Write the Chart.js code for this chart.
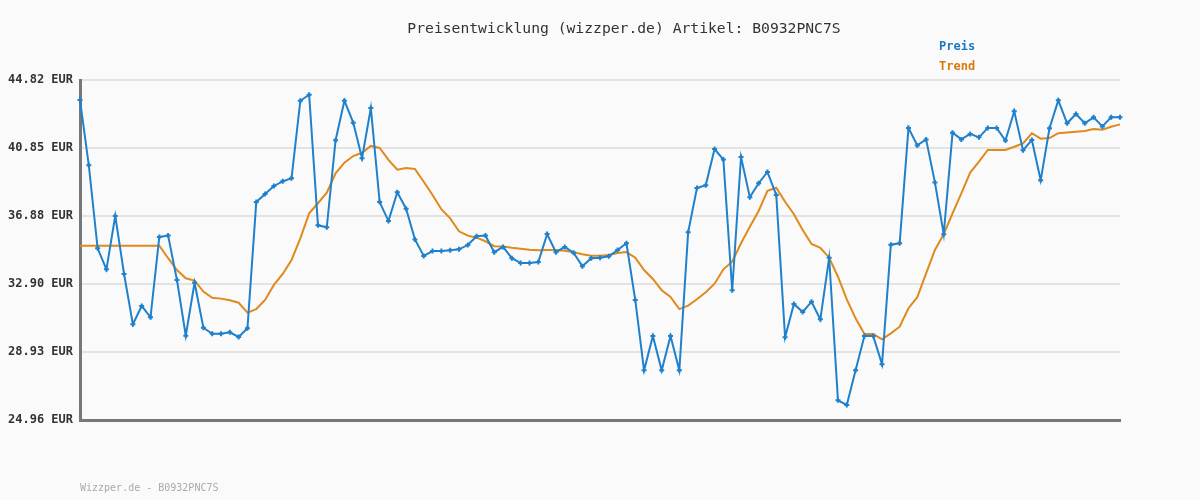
<!DOCTYPE html>
<html>
<head>
<meta charset="utf-8">
<script src="https://cdn.jsdelivr.net/npm/chart.js@4"></script>
<style>
    html, body { margin: 0; padding: 0; background: #fafafa; }
    #wrap { width: 1200px; height: 500px; position: relative; }
</style>
</head>
<body>
<div id="wrap"><canvas id="price_chart"></canvas></div>
<script>
// Preis (blau)
const preis = [
    43.65, 39.84, 34.99, 33.76, 36.88, 33.49, 30.55, 31.62, 30.96, 35.65,
    35.73, 33.14, 29.88, 32.98, 30.35, 30.00, 30.00, 30.08, 29.81, 30.32,
    37.69, 38.16, 38.63, 38.90, 39.08, 43.61, 43.96, 36.33, 36.22, 41.30,
    43.61, 42.33, 40.25, 43.18, 37.69, 36.58, 38.26, 37.30, 35.51, 34.54,
    34.83, 34.83, 34.87, 34.93, 35.18, 35.69, 35.73, 34.76, 35.07, 34.41,
    34.13, 34.13, 34.19, 35.82, 34.76, 35.07, 34.73, 33.94, 34.41, 34.44,
    34.52, 34.89, 35.28, 31.97, 27.86, 29.87, 27.86, 29.87, 27.86, 35.92,
    38.51, 38.67, 40.79, 40.17, 32.54, 40.32, 37.97, 38.79, 39.45, 38.10,
    29.79, 31.74, 31.27, 31.87, 30.84, 34.44, 26.11, 25.84, 27.86, 29.87,
    29.87, 28.21, 35.20, 35.28, 42.02, 41.00, 41.35, 38.84, 35.81, 41.74,
    41.35, 41.67, 41.47, 42.02, 42.02, 41.28, 42.99, 40.71, 41.32, 38.96,
    42.00, 43.63, 42.29, 42.83, 42.29, 42.64, 42.11, 42.64, 42.64
];

// Trend (orange)
const trend = [
    35.14, 35.14, 35.14, 35.14, 35.14, 35.14, 35.14, 35.14, 35.14, 35.14,
    34.41, 33.72, 33.24, 33.10, 32.46, 32.10, 32.05, 31.95, 31.81, 31.23,
    31.44, 31.97, 32.85, 33.49, 34.31, 35.57, 37.03, 37.62, 38.24, 39.37,
    39.99, 40.38, 40.57, 40.97, 40.85, 40.15, 39.58, 39.68, 39.62, 38.88,
    38.10, 37.27, 36.74, 35.98, 35.73, 35.61, 35.40, 35.11, 35.09, 35.02,
    34.97, 34.91, 34.87, 34.89, 34.89, 34.85, 34.76, 34.64, 34.56, 34.56,
    34.60, 34.72, 34.77, 34.44, 33.72, 33.20, 32.54, 32.15, 31.44, 31.64,
    32.01, 32.42, 32.92, 33.76, 34.21, 35.28, 36.25, 37.17, 38.35, 38.53,
    37.71, 36.98, 36.06, 35.24, 35.02, 34.44, 33.33, 32.01, 30.90, 29.98,
    29.98, 29.67, 30.02, 30.41, 31.49, 32.13, 33.53, 34.89, 35.81, 37.03,
    38.20, 39.41, 40.05, 40.73, 40.73, 40.73, 40.92, 41.12, 41.71, 41.39,
    41.43, 41.71, 41.76, 41.80, 41.84, 41.96, 41.92, 42.09, 42.23
];

const yTicks = [24.96, 28.93, 32.90, 36.88, 40.85, 44.82];
const labels = preis.map((v, i) => i + 1);

const titleText = 'Preisentwicklung (wizzper.de) Artikel: B0932PNC7S';
const footerText = 'Wizzper.de - B0932PNC7S';
const seriesNames = ['Preis', 'Trend'];
const BLUE = '#1f80cc';
const ORANGE = '#e0891c';

// Titel, Legende, Fusszeile selbst zeichnen
const textPlugin = {
    id: 'texts',
    beforeDraw(chart) {
        const c = chart.ctx;
        c.save();
        c.fillStyle = '#fafafa';
        c.fillRect(0, 0, chart.width, chart.height);
        c.restore();
    },
    afterDraw(chart) {
        const c = chart.ctx;
        c.save();
        c.textBaseline = 'middle';
        c.textAlign = 'center';
        c.fillStyle = '#333';
        c.font = '14.7px "DejaVu Sans Mono"';
        c.fillText(titleText, 624, 29);

        c.textAlign = 'left';
        c.font = 'bold 12px "DejaVu Sans Mono"';
        c.fillStyle = '#1a78c2';
        c.fillText(seriesNames[0], 939, 47);
        c.fillStyle = '#d97a0c';
        c.fillText(seriesNames[1], 939, 67);

        c.font = '10px "DejaVu Sans Mono"';
        c.fillStyle = '#aaa';
        c.fillText(footerText, 80, 488);
        c.restore();
    }
};

function fnPriceChart() {
    const ctx = document.getElementById('price_chart').getContext('2d');
    new Chart(ctx, {
        type: 'line',
        data: {
            labels: labels,
            datasets: [
                {
                    label: seriesNames[0],
                    data: preis,
                    borderColor: BLUE,
                    backgroundColor: BLUE,
                    borderWidth: 2,
                    pointStyle: 'cross',
                    pointRadius: 2.5,
                    pointBorderWidth: 2,
                    tension: 0
                },
                {
                    label: seriesNames[1],
                    data: trend,
                    borderColor: ORANGE,
                    backgroundColor: ORANGE,
                    borderWidth: 2,
                    pointRadius: 0,
                    tension: 0
                }
            ]
        },
        options: {
            responsive: true,
            maintainAspectRatio: false,
            animation: false,
            layout: {
                padding: { top: 80, right: 80, bottom: 80, left: 0 }
            },
            scales: {
                x: {
                    offset: false,
                    ticks: { display: false },
                    grid: { display: false, drawTicks: false },
                    border: { color: '#777', width: 3 }
                },
                y: {
                    min: 24.96,
                    max: 44.82,
                    afterBuildTicks: (scale) => {
                        scale.ticks = yTicks.map(v => ({ value: v }));
                    },
                    afterFit: (scale) => {
                        scale.width = 80;
                    },
                    ticks: {
                        padding: 7,
                        color: '#333',
                        font: { family: 'DejaVu Sans Mono', size: 12, weight: 'bold' },
                        callback: (v) => Number(v).toFixed(2) + ' EUR'
                    },
                    grid: { color: '#e3e3e3', lineWidth: 2, drawTicks: false },
                    border: { color: '#777', width: 3 }
                }
            },
            plugins: {
                legend: { display: false },
                title: { display: false },
                tooltip: { enabled: false }
            }
        },
        plugins: [textPlugin]
    });
}

fnPriceChart();
</script>
</body>
</html>
